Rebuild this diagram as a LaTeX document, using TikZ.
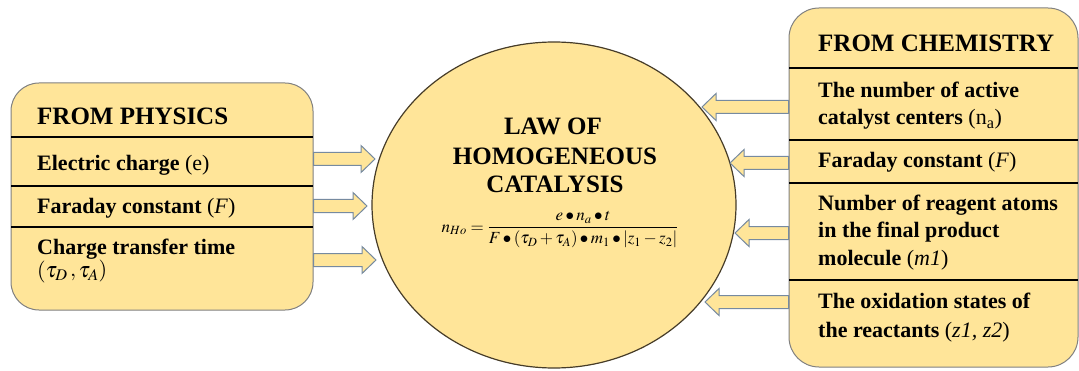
\documentclass[tikz,border=0pt]{standalone}
\usepackage{amsmath}
\usepackage{mathptmx}
\usepackage{fontspec}
\setmainfont{Liberation Serif}
\usetikzlibrary{shapes.geometric,calc,positioning}
\definecolor{gold}{RGB}{255,229,153}
\definecolor{boxline}{RGB}{128,128,128}
\definecolor{arrowline}{RGB}{118,138,160}
\definecolor{ringline}{RGB}{70,60,40}

\begin{document}
\begin{tikzpicture}[x=1pt, y=1pt,
    panel/.style={draw=boxline, line width=1pt, fill=gold, rounded corners=28pt, inner sep=0pt},
    head/.style={anchor=base west, inner sep=0pt, font=\fontsize{25}{29}\selectfont\bfseries},
    item/.style={anchor=base west, inner sep=0pt, font=\fontsize{22}{27}\selectfont\bfseries},
    title/.style={anchor=base, inner sep=0pt, font=\fontsize{25}{29}\selectfont\bfseries},
    rule/.style={line width=1.3pt},
    fat/.style={draw=arrowline, fill=gold, line width=1pt, line join=miter,
      to path={let \p1=(\tikztostart), \p2=(\tikztotarget), \n1={sign(\x2-\x1)} in
        (\x1,{\y1+6.5pt}) -- ({\x2-\n1*14pt},{\y1+6.5pt}) -- ({\x2-\n1*14pt},{\y1+13.5pt})
        -- (\x2,\y1) -- ({\x2-\n1*14pt},{\y1-13.5pt}) -- ({\x2-\n1*14pt},{\y1-6.5pt})
        -- (\x1,{\y1-6.5pt}) -- cycle}}]
\useasboundingbox (0,0) rectangle (1079,370);

\node[panel, minimum width=302pt, minimum height=227pt] (phys) at (162,173.5) {};
\node[panel, rounded corners=30pt, minimum width=289pt, minimum height=359pt] (chem) at (933.5,182.5) {};
\node[ellipse, draw=ringline, line width=1.2pt, fill=gold, inner sep=0pt,
      minimum width=364pt, minimum height=326pt] (law) at (554,165) {};

\draw[rule, line width=2pt] (11,233) -- (313,233);
\foreach \y in {184,143} \draw[rule] (11,\y) -- (313,\y);
\draw[rule, line width=2pt] (789,302) -- (1078,302);
\foreach \y in {230,187,90} \draw[rule] (789,\y) -- (1078,\y);

\node[head] (physhead) at (37,245) {FROM PHYSICS};
\node[item] (phys1) at (37,199) {Electric charge {\mdseries(e)}};
\node[item] (phys2) at (37,157) {Faraday constant {\mdseries(\textit{F})}};
\node[item] (phys3a) at (37,116) {Charge transfer time};
\node[item] (phys3b) at (37,93) {\mdseries$(\tau_D\,,\tau_A)$};

\node[head] (chemhead) at (818,318) {FROM CHEMISTRY};
\node[item] (chem1a) at (818,272) {The number of active};
\node[item] (chem1b) at (818,245) {catalyst centers {\mdseries(n\textsubscript{a})}};
\node[item] (chem2) at (818,202) {Faraday constant {\mdseries(\textit{F})}};
\node[item] (chem3a) at (818,160) {Number of reagent atoms};
\node[item] (chem3b) at (818,133) {in the final product};
\node[item] (chem3c) at (818,105) {molecule {\mdseries(\textit{m1})}};
\node[item] (chem4a) at (818,62) {The oxidation states of};
\node[item] (chem4b) at (818,33) {the reactants {\mdseries(\textit{z1, z2})}};

\node[title] (law1) at (553,235) {LAW OF};
\node[title] (law2) at (555,205) {HOMOGENEOUS};
\node[title] (law3) at (555,177) {CATALYSIS};
\node[anchor=base, inner sep=0pt, font=\fontsize{17}{20}\selectfont] (formula) at (560,138)
  {$\displaystyle n_{Ho}=\frac{e\bullet n_a\bullet t}{F\bullet(\tau_D+\tau_A)\bullet m_1\bullet\left|z_1-z_2\right|}$};

\foreach \i/\y/\tip in {1/211/375, 2/164/367, 3/110/376} {
  \coordinate (pin\i) at (\tip,\y);
  \draw[fat] (phys.east |- pin\i) to (pin\i);
}
\foreach \i/\y/\tip in {1/263/702, 2/207/730, 3/137/735, 4/68/705} {
  \coordinate (cin\i) at (\tip,\y);
  \draw[fat] (chem.west |- cin\i) to (cin\i);
}
\end{tikzpicture}
\end{document}
